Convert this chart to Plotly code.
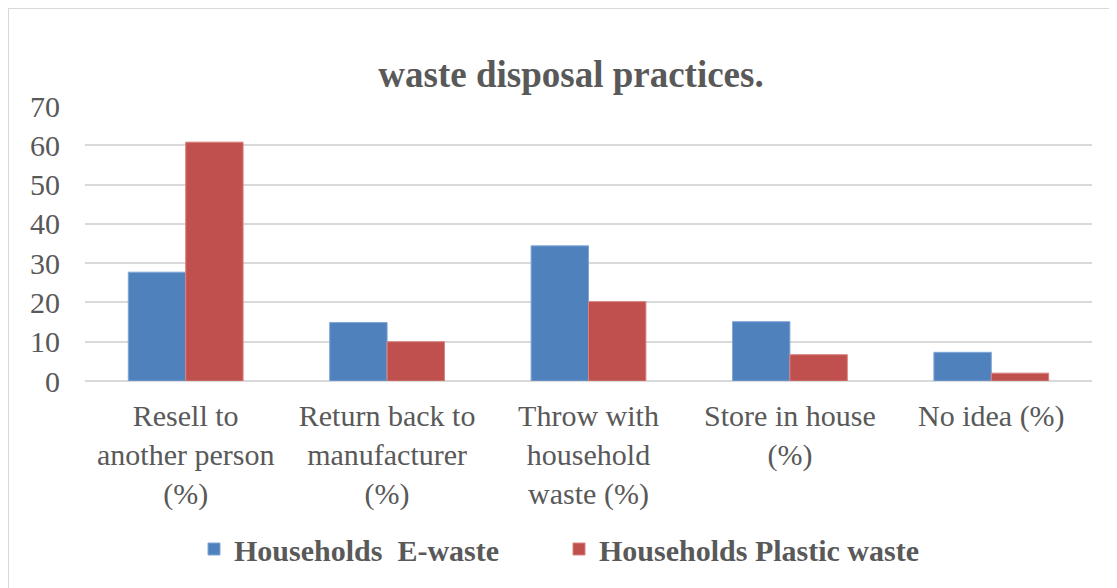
import plotly.graph_objects as go

categories = [
    "Resell to<br>another person<br>(%)",
    "Return back to<br>manufacturer<br>(%)",
    "Throw with<br>household<br>waste (%)",
    "Store in house<br>(%)",
    "No idea (%)",
]
ewaste = [27.7, 14.9, 34.4, 15.1, 7.3]
plastic = [60.8, 10.0, 20.2, 6.7, 2.0]
series_names = ["<b>Households\u00a0 E-waste</b>", "<b>Households Plastic waste</b>"]
y_ticks = [0, 10, 20, 30, 40, 50, 60, 70]

# page body adds an 8px offset; figure drawn in the remaining area
OFF = 8
W, H = 1117 - OFF, 588 - OFF
ml, mr, mt, mb = 85 - OFF, 25, 106 - OFF, 207
pw, ph = W - ml - mr, H - mt - mb

serif = "Liberation Serif, Times New Roman, serif"
txt = "#595959"

fig = go.Figure()
fig.add_trace(go.Bar(x=categories, y=ewaste, name=series_names[0],
                     marker=dict(color="#4F81BD", line=dict(color="#7FA6D6", width=1))))
fig.add_trace(go.Bar(x=categories, y=plastic, name=series_names[1],
                     marker=dict(color="#C0504D", line=dict(color="#D98380", width=1))))

fig.update_layout(
    width=W, height=H,
    margin=dict(l=ml, r=mr, t=mt, b=mb),
    paper_bgcolor="white", plot_bgcolor="white",
    barmode="group", bargap=0.43, bargroupgap=0,
    title=dict(text="<b>waste disposal practices.</b>", x=(571 - OFF) / W, xanchor="center",
               y=1 - (74 - OFF) / H, yanchor="middle",
               font=dict(family=serif, size=37, color=txt)),
    font=dict(family=serif, color=txt),
    showlegend=True,
    legend=dict(orientation="h", x=(194 - 85) / pw, xanchor="left",
                y=-(549 - 381) / ph, yanchor="middle",
                font=dict(family=serif, size=30, color=txt),
                itemwidth=30, entrywidth=320, traceorder="normal"),
    shapes=[dict(type="rect", xref="paper", yref="paper",
                 x0=(8 - 85) / pw, x1=(1140 - 85) / pw,
                 y0=-(620 - 381) / ph, y1=(381 - 8) / ph,
                 line=dict(color="#d9d9d9", width=2), fillcolor="rgba(0,0,0,0)", layer="below")],
)
fig.update_xaxes(showline=False, showgrid=False, ticks="", ticklabelstandoff=14,
                 tickfont=dict(family=serif, size=30, color=txt), tickangle=0)
fig.update_yaxes(range=[0, 70], tickvals=y_ticks, showgrid=True, gridcolor="#d9d9d9", gridwidth=2,
                 zeroline=True, zerolinecolor="#d9d9d9", zerolinewidth=2, showline=False,
                 ticks="", ticklabelstandoff=24, tickfont=dict(family=serif, size=30, color=txt))

fig.write_html("out.html")
